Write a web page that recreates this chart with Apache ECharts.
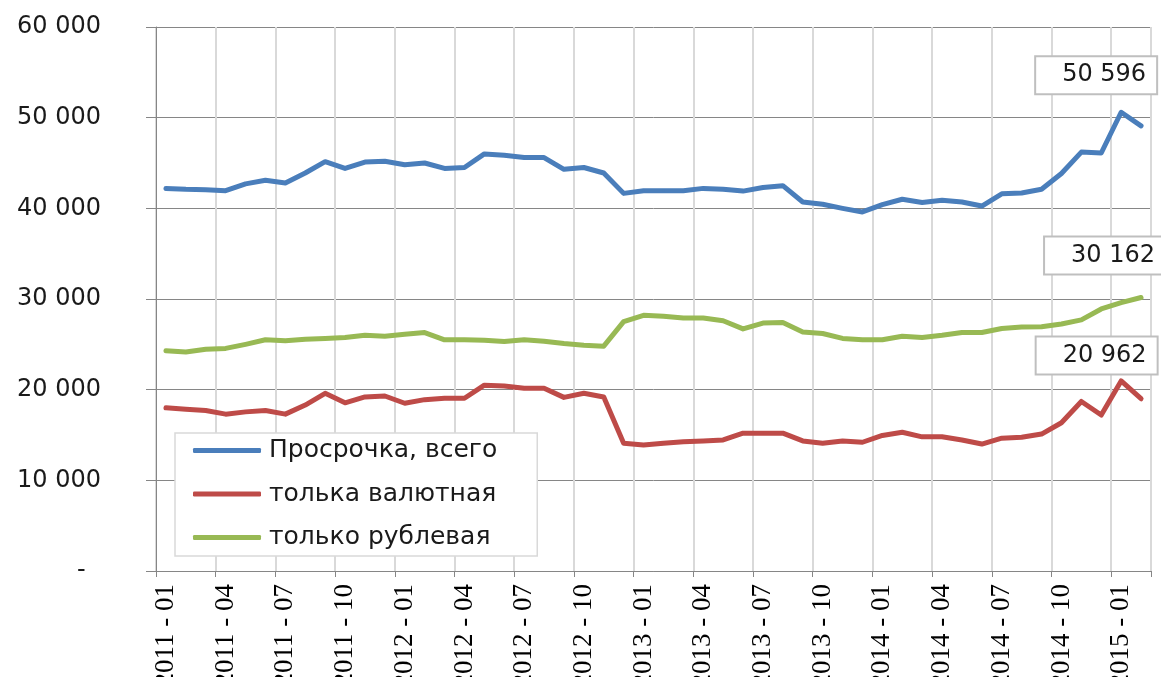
<!DOCTYPE html>
<html>
<head>
<meta charset="utf-8">
<script src="https://cdn.jsdelivr.net/npm/echarts@6/dist/echarts.min.js"></script>
<style>
html,body{margin:0;padding:0;background:#fff;}
#chart{width:1161px;height:677px;}
</style>
</head>
<body>
<div id="chart"></div>
<script>
var categories = [
  "2011 - 01","2011 - 02","2011 - 03","2011 - 04","2011 - 05","2011 - 06","2011 - 07","2011 - 08","2011 - 09","2011 - 10","2011 - 11","2011 - 12",
  "2012 - 01","2012 - 02","2012 - 03","2012 - 04","2012 - 05","2012 - 06","2012 - 07","2012 - 08","2012 - 09","2012 - 10","2012 - 11","2012 - 12",
  "2013 - 01","2013 - 02","2013 - 03","2013 - 04","2013 - 05","2013 - 06","2013 - 07","2013 - 08","2013 - 09","2013 - 10","2013 - 11","2013 - 12",
  "2014 - 01","2014 - 02","2014 - 03","2014 - 04","2014 - 05","2014 - 06","2014 - 07","2014 - 08","2014 - 09","2014 - 10","2014 - 11","2014 - 12",
  "2015 - 01","2015 - 02"
];
var seriesNames = ["Просрочка, всего", "толька валютная", "только рублевая"];
var totalOverdue = [
  42200,42100,42050,41950,42700,43100,42800,43900,45150,44400,45100,45200,
  44800,45000,44400,44500,46000,45850,45600,45600,44300,44500,43900,41650,
  41950,41950,41950,42200,42100,41900,42300,42500,40700,40450,40000,39600,
  40400,41000,40650,40900,40700,40250,41600,41700,42100,43850,46200,46100,
  50596,49100
];
var currencyOnly = [
  18000,17850,17700,17300,17550,17700,17300,18300,19600,18550,19200,19300,
  18500,18900,19050,19050,20500,20400,20150,20150,19150,19600,19200,14100,
  13900,14100,14250,14350,14450,15200,15200,15200,14350,14100,14350,14200,
  14950,15300,14800,14800,14450,14000,14650,14750,15100,16350,18700,17200,
  20962,19000
];
var rubleOnly = [
  24300,24150,24450,24550,25000,25500,25400,25550,25650,25750,26000,25900,
  26100,26300,25500,25500,25450,25300,25500,25350,25100,24900,24800,27500,
  28200,28100,27900,27900,27600,26700,27350,27400,26350,26200,25650,25500,
  25500,25900,25750,26000,26300,26300,26750,26900,26950,27250,27700,28900,
  29600,30162
];
var yTicks = {min: 0, max: 60000, interval: 10000};
// highlighted point labels: [seriesIndex, dataIndex]
var labelledPoints = [[0, 48], [1, 48], [2, 49]];

function fmt(v) {
  if (v === 0) return '-  ';
  var s = String(Math.round(v));
  return s.replace(/\B(?=(\d{3})+(?!\d))/g, ' ');
}

var colors = ['#4a7ebb', '#be4b48', '#98b954'];
var labelOffsets = [[-25, -37], [-24.5, -25.5], [-36, -42]];

function buildData(arr, sIdx) {
  return arr.map(function (v, i) {
    for (var k = 0; k < labelledPoints.length; k++) {
      if (labelledPoints[k][0] === sIdx && labelledPoints[k][1] === i) {
        return {
          value: v,
          label: {
            show: true,
            position: 'inside',
            offset: labelOffsets[sIdx],
            formatter: function (p) { return fmt(p.value); },
            fontFamily: 'DejaVu Sans',
            fontSize: 24,
            lineHeight: 24,
            color: '#1a1a1a',
            backgroundColor: '#ffffff',
            borderColor: '#bfbfbf',
            borderWidth: 2,
            padding: [6, 10, 6, 26]
          }
        };
      }
    }
    return v;
  });
}

var allSeries = [totalOverdue, currencyOnly, rubleOnly];

var chart = echarts.init(document.getElementById('chart'), null, {renderer: 'canvas'});
chart.setOption({
  animation: false,
  backgroundColor: '#ffffff',
  grid: {left: 156, right: 10, top: 27, bottom: 106, containLabel: false, outerBoundsMode: 'none'},
  legend: {
    orient: 'vertical',
    left: 175,
    top: 433,
    padding: [5, 40, 6, 18],
    itemGap: 18.5,
    itemWidth: 68,
    itemHeight: 5,
    icon: 'roundRect',
    backgroundColor: '#ffffff',
    borderColor: '#d9d9d9',
    borderWidth: 1.5,
    textStyle: {fontFamily: 'DejaVu Sans', fontSize: 25, color: '#1a1a1a', padding: [0, 0, 0, 3]},
    data: seriesNames
  },
  xAxis: {
    type: 'category',
    boundaryGap: true,
    data: categories,
    axisLine: {lineStyle: {color: '#868686', width: 1}},
    axisTick: {show: true, interval: 2, length: 6, lineStyle: {color: '#868686', width: 1}},
    axisLabel: {interval: 2, rotate: 90, margin: 13, fontFamily: 'Liberation Serif', fontSize: 27, color: '#000'},
    splitLine: {show: true, interval: 2, lineStyle: {color: '#d9d9d9', width: 2}}
  },
  yAxis: {
    type: 'value',
    min: yTicks.min,
    max: yTicks.max,
    interval: yTicks.interval,
    axisLine: {show: true, lineStyle: {color: '#868686', width: 1}},
    axisTick: {show: true, length: 10, lineStyle: {color: '#868686'}},
    axisLabel: {margin: 55, fontFamily: 'DejaVu Sans', fontSize: 24, color: '#1a1a1a', formatter: fmt},
    splitLine: {show: true, lineStyle: {color: '#868686', width: 1}}
  },
  series: allSeries.map(function (arr, idx) {
    return {
      name: seriesNames[idx],
      type: 'line',
      data: buildData(arr, idx),
      smooth: false,
      symbol: 'circle',
      symbolSize: 2,
      showSymbol: true,
      showAllSymbol: true,
      color: colors[idx],
      itemStyle: {color: colors[idx]},
      lineStyle: {color: colors[idx], width: 5, cap: 'round', join: 'round'},
      emphasis: {disabled: true},
      z: 3 + idx
    };
  })
});
</script>
</body>
</html>
